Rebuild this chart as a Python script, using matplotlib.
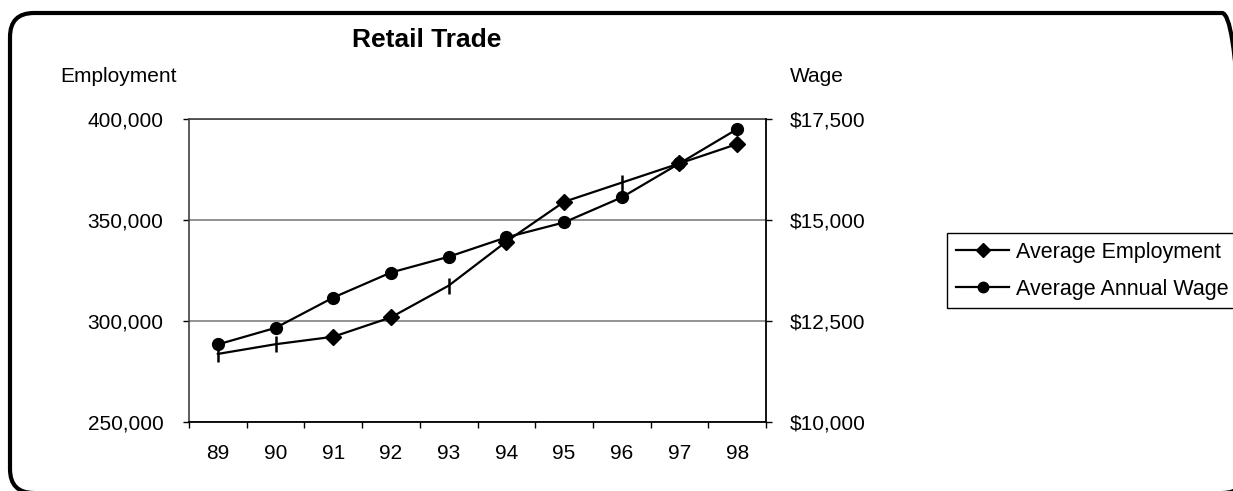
import matplotlib
matplotlib.use("Agg")
import matplotlib.pyplot as plt
from matplotlib.patches import FancyBboxPatch
from matplotlib.lines import Line2D
from matplotlib.transforms import IdentityTransform
from matplotlib.ticker import FuncFormatter, FixedLocator

plt.rcParams['font.family'] = ['Liberation Sans', 'DejaVu Sans']

years = ["89", "90", "91", "92", "93", "94", "95", "96", "97", "98"]
employment = [283700, 288500, 292200, 301800, 317500, 339300, 359000, 368500, 378000, 387600]
wage = [11920, 12330, 13080, 13700, 14090, 14570, 14940, 15560, 16400, 17250]
emp_diamond_idx = [2, 3, 5, 6, 8, 9]
emp_tick_idx = [0, 1, 4, 7]
emp_ticks = [250000, 300000, 350000, 400000]
wage_ticks = [10000, 12500, 15000, 17500]

W, H = 1233, 491
fig = plt.figure(figsize=(W / 100, H / 100), dpi=100)

# rounded outer frame (pixel coordinates)
frame = FancyBboxPatch((10, -2), 1236, 480, boxstyle="round,pad=0,rounding_size=24",
                       transform=IdentityTransform(), fill=False, edgecolor='black',
                       linewidth=3.0)
fig.add_artist(frame)

ax = fig.add_axes([189 / W, 1 - 422 / H, (766 - 189) / W, (422 - 119) / H])
x = list(range(len(years)))

ax.set_xlim(-0.5, len(years) - 0.5)
ax.set_ylim(250000, 400000)
ax.set_yticks(emp_ticks)
ax.yaxis.set_major_formatter(FuncFormatter(lambda v, p: f"{int(v):,}"))
ax.grid(axis='y', color='#808080', linewidth=1.2)
ax.set_axisbelow(True)
ax.set_xticks(x)
ax.set_xticklabels(years)
ax.xaxis.set_minor_locator(FixedLocator([i - 0.5 for i in range(len(years) + 1)]))
ax.tick_params(axis='x', which='major', length=0, pad=16, labelsize=15)
ax.tick_params(axis='x', which='minor', length=4.5, width=1, direction='out')
ax.tick_params(axis='y', length=4.5, width=1, labelsize=15, pad=14)
for s in ['left', 'top']:
    ax.spines[s].set_color('#404040')
    ax.spines[s].set_linewidth(1.2)
ax.spines['bottom'].set_linewidth(1.3)
ax.spines['right'].set_visible(False)

ax2 = ax.twinx()
ax2.set_ylim(10000, 17500)
ax2.set_yticks(wage_ticks)
ax2.yaxis.set_major_formatter(FuncFormatter(lambda v, p: f"${int(v):,}"))
ax2.tick_params(axis='y', length=4.5, width=1, labelsize=15, pad=12.5)
for s in ['left', 'top', 'bottom']:
    ax2.spines[s].set_visible(False)
ax2.spines['right'].set_linewidth(1.3)

ax.plot(x, employment, color='black', linewidth=1.6, zorder=3)
ax.plot(x, employment, linestyle='none', marker='D', markersize=8,
        color='black', markevery=emp_diamond_idx, zorder=4)
ax.plot(x, employment, linestyle='none', marker='|', markersize=11, markeredgewidth=1.8,
        color='black', markevery=emp_tick_idx, zorder=4)
ax2.plot(x, wage, color='black', linewidth=1.6, marker='o', markersize=8.5, zorder=3)

fig.text(427 / W, 1 - 40 / H, "Retail Trade", ha='center', va='center',
         fontsize=19, fontweight='bold')
fig.text(60 / W, 1 - 76 / H, "Employment", ha='left', va='center', fontsize=15)
fig.text(790 / W, 1 - 76 / H, "Wage", ha='left', va='center', fontsize=15)

handles = [
    Line2D([], [], color='black', linewidth=1.6, marker='D', markersize=7),
    Line2D([], [], color='black', linewidth=1.6, marker='o', markersize=7.5),
]
leg = fig.legend(handles, ["Average Employment", "Average Annual Wage"],
                 loc='upper left', bbox_to_anchor=(947 / W, 1 - 233 / H),
                 bbox_transform=fig.transFigure, fontsize=15.5, frameon=True,
                 fancybox=False, edgecolor='black', framealpha=1,
                 handlelength=2.5, handletextpad=0.3, borderpad=0.4,
                 labelspacing=0.75, borderaxespad=0)
leg.get_frame().set_linewidth(1.0)

fig.savefig("out.png", dpi=100)
